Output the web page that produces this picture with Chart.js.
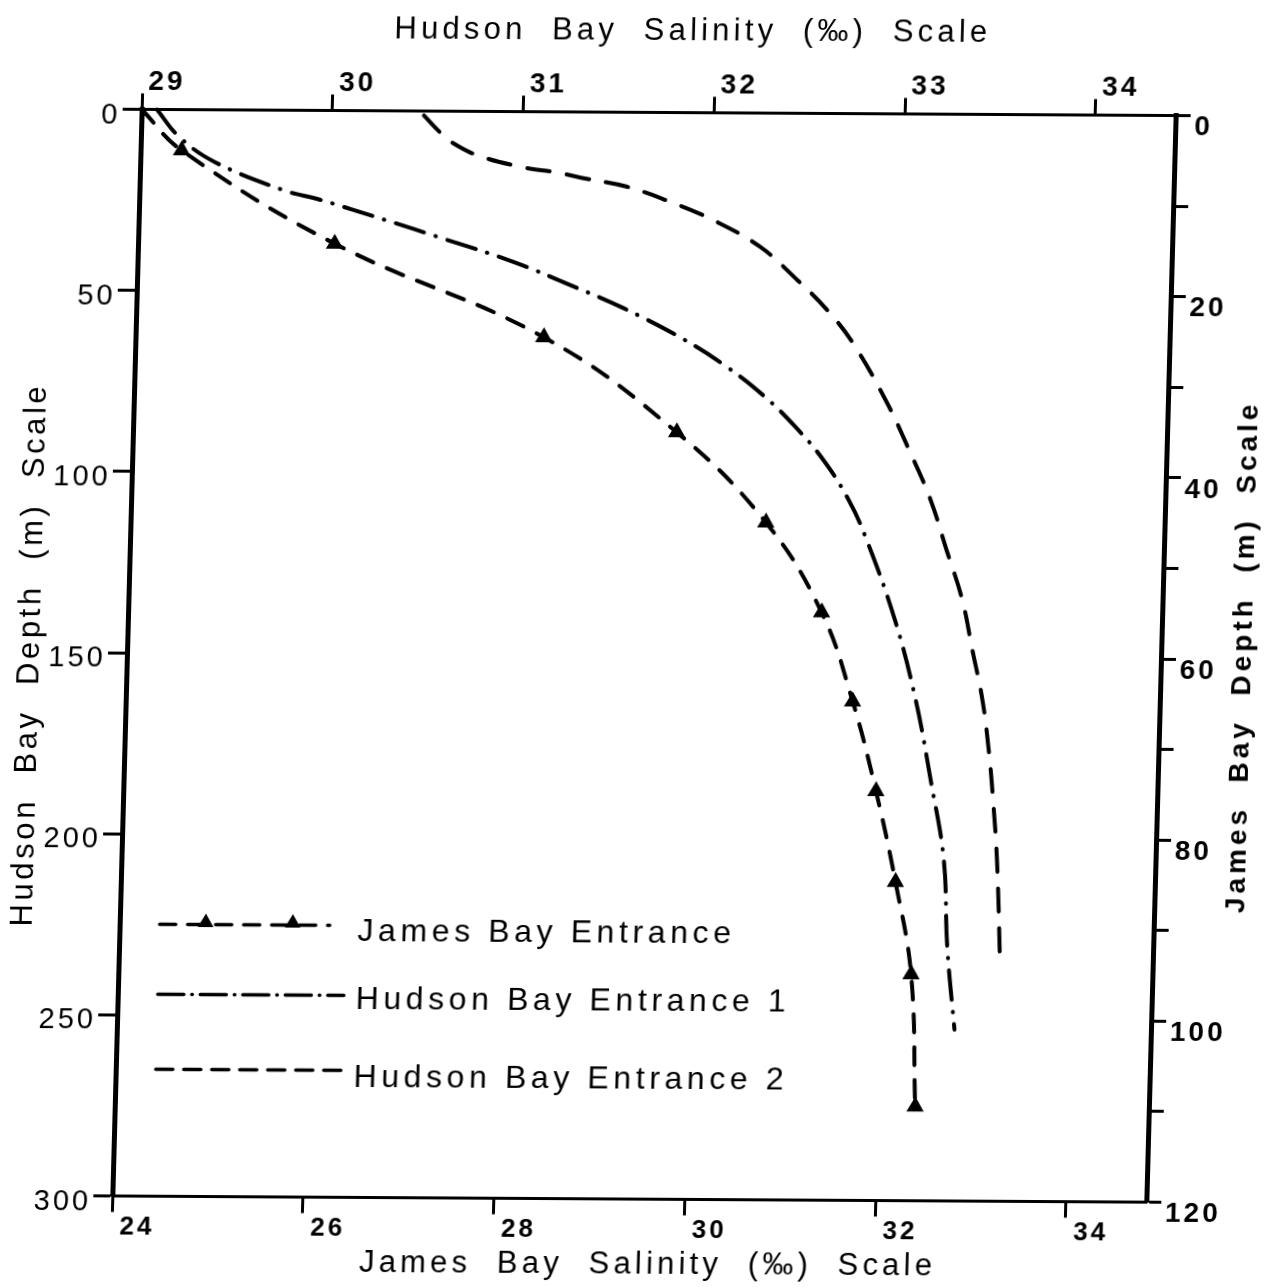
<!DOCTYPE html>
<html>
<head>
<meta charset="utf-8">
<title>Hudson Bay / James Bay salinity profiles</title>
<script src="https://cdn.jsdelivr.net/npm/chart.js@4/dist/chart.umd.min.js"></script>
<style>
  html, body { margin: 0; padding: 0; background: #fff; }
  /* the scanned figure is slightly sheared, so the whole drawing is too */
  #wrap { width: 1270px; height: 1287px; transform: matrix(1, 0.006, -0.027, 1, 0, 0); transform-origin: 644px 656px; }
</style>
</head>
<body>
<div id="wrap"><canvas id="profileChart" width="1270" height="1287"></canvas></div>
<script>
// James Bay Entrance - read against the James Bay scales (bottom salinity, right depth)
const jamesDepth = [0, 4.5, 14.7, 24.9, 35.3, 45.2, 55.1, 64.9, 74.8, 84.8, 95.0, 109.6];
const jamesSalinity = [24.0, 24.43, 26.06, 28.28, 29.70, 30.66, 31.27, 31.62, 31.89, 32.12, 32.31, 32.39];

// Hudson Bay Entrance 1 and 2 - Hudson Bay scales (top salinity, left depth)
const hudson1Depth = [0, 7.5, 14.4, 22.0, 24.7, 30.1, 35.2, 41.5, 48.0, 54.0, 62.5, 70.0, 78.0, 86.5, 95.5, 106.6, 117.6, 139.7, 161.7, 183.8, 205.8, 229.5, 252.7];
const hudson1Salinity = [29.08, 29.20, 29.39, 29.75, 29.95, 30.29, 30.60, 30.97, 31.28, 31.55, 31.87, 32.10, 32.30, 32.47, 32.62, 32.76, 32.86, 33.02, 33.14, 33.23, 33.31, 33.34, 33.39];

const hudson2Depth = [1.2, 6.0, 8.6, 12.0, 15.2, 16.8, 18.4, 20.5, 24.6, 29.6, 36.9, 46.0, 54.2, 63.3, 79.0, 92.7, 106.5, 120.2, 134.0, 147.8, 161.6, 175.4, 189.2, 206.6, 234.7];
const hudson2Salinity = [30.48, 30.57, 30.63, 30.76, 30.99, 31.19, 31.34, 31.55, 31.78, 32.01, 32.26, 32.46, 32.62, 32.76, 32.94, 33.07, 33.19, 33.28, 33.37, 33.43, 33.49, 33.53, 33.56, 33.59, 33.62];

// tick values of the four scales
const hudsonSalinityTicks = [29, 30, 31, 32, 33, 34];
const jamesSalinityTicks = [24, 26, 28, 30, 32, 34];
const hudsonDepthTicks = [0, 50, 100, 150, 200, 250, 300];
const jamesDepthTicks = [0, 10, 20, 30, 40, 50, 60, 70, 80, 90, 100, 110, 120];

const topTitle = 'Hudson  Bay  Salinity  (‰)  Scale';
const bottomTitle = 'James  Bay  Salinity  (‰)  Scale';
const leftTitle = 'Hudson  Bay  Depth  (m)  Scale';
const rightTitle = 'James  Bay  Depth  (m)  Scale';

const FONT = '"Liberation Sans", Arial, Helvetica, sans-serif';

const toPoints = (xs, ys) => xs.map((x, i) => ({ x: x, y: ys[i] }));

const spacing = {
  id: 'spacing',
  beforeDraw(chart) {
    chart.ctx.letterSpacing = '3px';
  }
};

const axisTitles = {
  id: 'axisTitles',
  afterDraw(chart) {
    const c = chart.ctx;
    const a = chart.chartArea;
    c.save();
    c.fillStyle = '#000';
    c.textAlign = 'center';
    c.textBaseline = 'middle';
    c.letterSpacing = '4.2px';
    c.font = '31px ' + FONT;
    c.fillText(topTitle, a.left + 549, 31);
    c.fillText(bottomTitle, a.left + 537, 1265);

    c.save();
    c.letterSpacing = '3.6px';
    c.translate(30, a.top + 546);
    c.rotate(-Math.PI / 2);
    c.fillText(leftTitle, 0, 0);
    c.restore();

    c.save();
    c.letterSpacing = '4px';
    c.font = 'bold 28px ' + FONT;
    c.translate(1243, a.top + 541);
    c.rotate(-Math.PI / 2);
    c.fillText(rightTitle, 0, 0);
    c.restore();
    c.restore();
  }
};

const drawTriangle = (c, x, y, r) => {
  c.beginPath();
  c.moveTo(x, y - r);
  c.lineTo(x + r * 0.87, y + r * 0.5);
  c.lineTo(x - r * 0.87, y + r * 0.5);
  c.closePath();
  c.fill();
};

// legend sits inside the plot, lower left
const insideLegend = {
  id: 'insideLegend',
  afterDatasetsDraw(chart) {
    const c = chart.ctx;
    const a = chart.chartArea;
    const rows = [
      { dash: [16, 12], len: 170, lineY: 815, textY: 822, marks: [46, 133] },
      { dash: [26, 8, 0.5, 8], len: 186, lineY: 885, textY: 890, marks: [] },
      { dash: [17, 11], len: 190, lineY: 960, textY: 968, marks: [] }
    ];
    c.save();
    c.strokeStyle = '#000';
    c.fillStyle = '#000';
    c.lineWidth = 3.5;
    c.lineCap = 'round';
    rows.forEach((row, i) => {
      const x0 = a.left + 40;
      const y = a.top + row.lineY;
      c.setLineDash(row.dash);
      c.beginPath();
      c.moveTo(x0, y);
      c.lineTo(x0 + row.len, y);
      c.stroke();
      row.marks.forEach(m => drawTriangle(c, x0 + m, y - 2, 9));
      c.setLineDash([]);
      c.letterSpacing = '4.6px';
      c.font = '32px ' + FONT;
      c.textAlign = 'left';
      c.textBaseline = 'middle';
      c.fillText(chart.data.datasets[i].label, a.left + 238, a.top + row.textY);
    });
    c.restore();
  }
};

const axisLine = (w) => ({ display: true, color: '#000', width: w });
const tickMarks = (len, w) => ({ display: true, drawOnChartArea: false, drawTicks: true, tickLength: len, tickWidth: w, tickColor: '#000' });

var myChart = new Chart(document.getElementById('profileChart'), {
  type: 'scatter',
  data: {
    datasets: [{
      label: 'James Bay Entrance',
      data: toPoints(jamesSalinity, jamesDepth),
      xAxisID: 'xBottom',
      yAxisID: 'yRight',
      showLine: true,
      borderColor: '#000',
      borderWidth: 4,
      borderDash: [18, 15],
      borderCapStyle: 'round',
      tension: 0.4,
      clip: false,
      pointStyle: 'triangle',
      pointRotation: 0,
      pointRadius: c => c.dataIndex === 0 ? 0 : 10,
      pointHoverRadius: 0,
      pointBackgroundColor: '#000',
      pointBorderColor: '#000',
      pointBorderWidth: 0
    }, {
      label: 'Hudson Bay Entrance 1',
      data: toPoints(hudson1Salinity, hudson1Depth),
      xAxisID: 'xTop',
      yAxisID: 'yLeft',
      showLine: true,
      borderColor: '#000',
      borderWidth: 4,
      borderDash: [30, 12, 0.5, 12],
      borderCapStyle: 'round',
      tension: 0.4,
      clip: false,
      pointRadius: 0,
      pointHoverRadius: 0
    }, {
      label: 'Hudson Bay Entrance 2',
      data: toPoints(hudson2Salinity, hudson2Depth),
      xAxisID: 'xTop',
      yAxisID: 'yLeft',
      showLine: true,
      borderColor: '#000',
      borderWidth: 4,
      borderDash: [23, 17],
      borderCapStyle: 'round',
      tension: 0.4,
      clip: false,
      pointRadius: 0,
      pointHoverRadius: 0
    }]
  },
  options: {
    responsive: false,
    animation: false,
    layout: { padding: 0 },
    plugins: {
      legend: { display: false },
      tooltip: { enabled: false }
    },
    scales: {
      xTop: {
        type: 'linear',
        position: 'top',
        min: 29,
        max: 34.42,
        afterBuildTicks: s => { s.ticks = hudsonSalinityTicks.map(v => ({ value: v })); },
        afterFit: s => { s.height = 112.5; },
        border: axisLine(3),
        grid: tickMarks(16, 3),
        ticks: { color: '#000', align: 'start', labelOffset: 6, padding: -3, maxRotation: 0,
          font: { family: FONT, size: 28, weight: 'bold', lineHeight: 1 } }
      },
      xBottom: {
        type: 'linear',
        position: 'bottom',
        min: 24,
        max: 34.84,
        afterBuildTicks: s => { s.ticks = jamesSalinityTicks.map(v => ({ value: v })); },
        afterFit: s => { s.height = 87.5; },
        border: axisLine(3),
        grid: tickMarks(16, 3),
        ticks: { color: '#000', align: 'start', labelOffset: 8, padding: 2, maxRotation: 0,
          font: { family: FONT, size: 26, weight: 'bold', lineHeight: 1 } }
      },
      yLeft: {
        type: 'linear',
        position: 'left',
        reverse: true,
        min: 0,
        max: 300,
        afterBuildTicks: s => { s.ticks = hudsonDepthTicks.map(v => ({ value: v })); },
        afterFit: s => { s.width = 127; },
        border: axisLine(5),
        grid: tickMarks(19, 3),
        ticks: { color: '#000', labelOffset: 6, padding: 2,
          font: { family: FONT, size: 29, lineHeight: 1 } }
      },
      yRight: {
        type: 'linear',
        position: 'right',
        reverse: true,
        min: 0,
        max: 120,
        afterBuildTicks: s => { s.ticks = jamesDepthTicks.map(v => ({ value: v })); },
        afterFit: s => { s.width = 109; },
        border: axisLine(5),
        grid: tickMarks(15, 3),
        ticks: { color: '#000', labelOffset: 12, padding: 4,
          callback: v => v % 20 === 0 ? String(v) : '',
          font: { family: FONT, size: 28, weight: 'bold', lineHeight: 1 } }
      }
    }
  },
  plugins: [spacing, axisTitles, insideLegend]
});
</script>
</body>
</html>
